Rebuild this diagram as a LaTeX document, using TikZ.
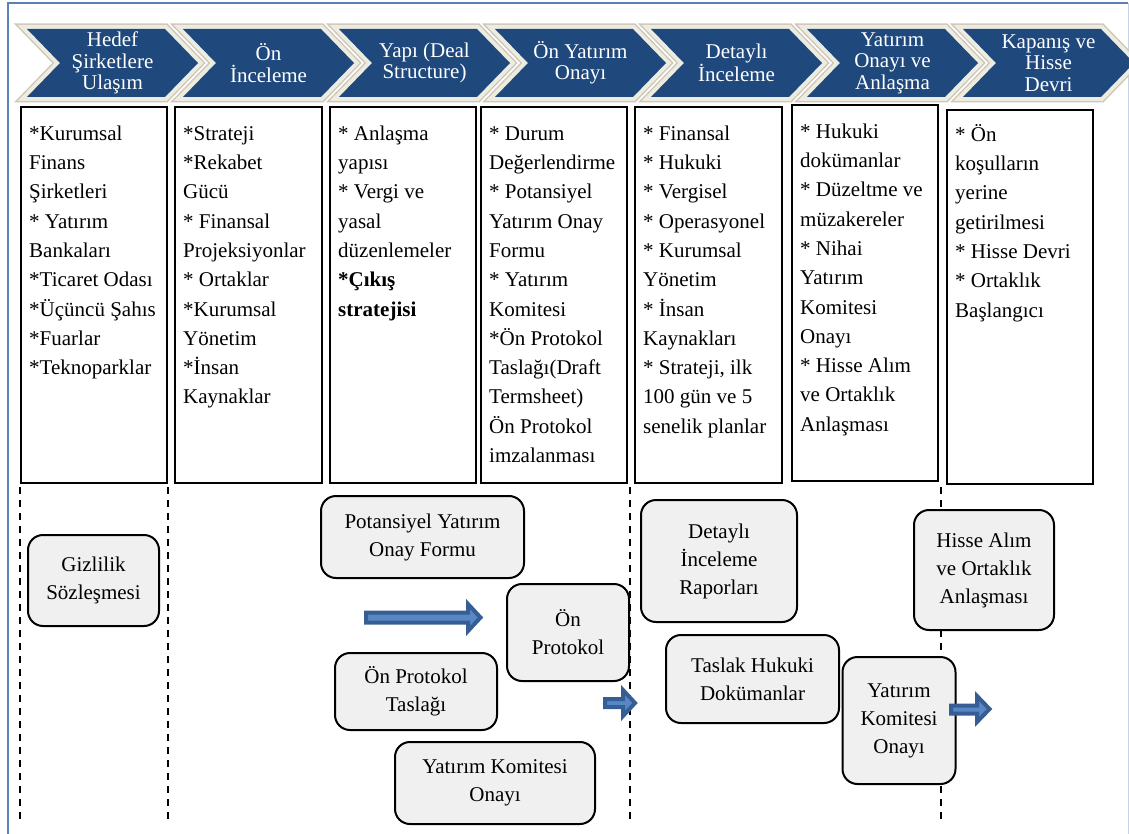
\documentclass[tikz,border=0pt]{standalone}
\usepackage{fontspec}
\setmainfont{Liberation Serif}
\usepackage{xcolor}
\usepackage{tikz}
\usetikzlibrary{positioning}

\definecolor{chevblue}{RGB}{31,73,125}
\definecolor{chevrim}{RGB}{238,236,225}
\definecolor{chevedge}{RGB}{205,200,184}
\definecolor{docgray}{RGB}{240,240,240}
\definecolor{arrowfill}{RGB}{88,136,196}
\definecolor{arrowedge}{RGB}{55,94,148}
\definecolor{framecol}{RGB}{92,128,184}

\begin{document}
\begin{tikzpicture}[x=1pt, y=-1pt]
            \useasboundingbox (0,0) rectangle (1129,834);

            % Define block styles
            \tikzstyle{chev} = [fill=chevblue, line join=miter, preaction={draw=chevedge, line width=11pt}, preaction={draw=chevrim, line width=8pt}]
            \tikzstyle{chevtext} = [text=white, align=center, inner sep=0pt, font=\fontsize{21}{21.5}\selectfont]
            \tikzstyle{listbox} = [draw, line width=2pt, anchor=north west, inner sep=0pt, minimum height=376pt]
            \tikzstyle{listtext} = [align=left, inner sep=0pt, font=\fontsize{21}{29.3}\selectfont]
            \tikzstyle{doc} = [draw, line width=2pt, fill=docgray, rounded corners=15pt, align=center, inner sep=0pt, font=\fontsize{21}{28}\selectfont]
            \tikzstyle{blockarrow} = [fill=arrowfill, draw=arrowedge, line width=4pt, line join=miter]
            \tikzstyle{phase} = [line width=2pt, dash pattern=on 7pt off 6pt]

            % Frame
            \draw[framecol, line width=1.5pt] (8,834) -- (8,3) -- (1128,3);
            \draw[framecol!35, line width=1pt] (1128,3) -- (1128,834);

            % Chevrons
            \path[chev] (27,29) -- ++(138,0) -- ++(33,34) -- ++(-33,34) -- ++(-138,0) -- ++(33,-34) -- cycle;
            \path[chev] (183,29) -- ++(138,0) -- ++(33,34) -- ++(-33,34) -- ++(-138,0) -- ++(33,-34) -- cycle;
            \path[chev] (339,29) -- ++(138,0) -- ++(33,34) -- ++(-33,34) -- ++(-138,0) -- ++(33,-34) -- cycle;
            \path[chev] (495,29) -- ++(138,0) -- ++(33,34) -- ++(-33,34) -- ++(-138,0) -- ++(33,-34) -- cycle;
            \path[chev] (651,29) -- ++(138,0) -- ++(33,34) -- ++(-33,34) -- ++(-138,0) -- ++(33,-34) -- cycle;
            \path[chev] (807,29) -- ++(138,0) -- ++(33,34) -- ++(-33,34) -- ++(-138,0) -- ++(33,-34) -- cycle;
            \path[chev] (963,29) -- ++(138,0) -- ++(33,34) -- ++(-33,34) -- ++(-138,0) -- ++(33,-34) -- cycle;

            \node[chevtext] (c1) at (112.5,63) {Hedef\\Şirketlere\\Ulaşım};
            \node[chevtext] (c2) at (268.5,63) {Ön\\İnceleme};
            \node[chevtext] (c3) at (424.5,63) {Yapı (Deal\\Structure)};
            \node[chevtext] (c4) at (580.5,63) {Ön Yatırım\\Onayı};
            \node[chevtext] (c5) at (736.5,63) {Detaylı\\İnceleme};
            \node[chevtext] (c6) at (892.5,63) {Yatırım\\Onayı ve\\Anlaşma};
            \node[chevtext] (c7) at (1048.5,63) {Kapanış ve\\Hisse\\Devri};

            % Lists
            \node[listbox, minimum width=146pt] (b1) at (20,106) {};
            \node[listbox, minimum width=147pt] (b2) at (174,106) {};
            \node[listbox, minimum width=146pt] (b3) at (329,106) {};
            \node[listbox, minimum width=146pt] (b4) at (480,106) {};
            \node[listbox, minimum width=147pt] (b5) at (634,106) {};
            \node[listbox, minimum width=146pt] (b6) at (791,104) {};
            \node[listbox, minimum width=146pt, minimum height=374pt] (b7) at (946,109) {};

            \node[listtext, below right=13.5pt and 9pt of b1.north west] (t1) {\strut*Kurumsal\\Finans\\Şirketleri\\{}* Yatırım\\Bankaları\\{}*Ticaret Odası\\{}*Üçüncü Şahıs\\{}*Fuarlar\\{}*Teknoparklar};
            \node[listtext, below right=13.5pt and 9pt of b2.north west] (t2) {\strut*Strateji\\{}*Rekabet\\Gücü\\{}* Finansal\\Projeksiyonlar\\{}* Ortaklar\\{}*Kurumsal\\Yönetim\\{}*İnsan\\Kaynaklar};
            \node[listtext, below right=13.5pt and 9pt of b3.north west] (t3) {\strut* Anlaşma\\yapısı\\{}* Vergi ve\\yasal\\düzenlemeler\\\textbf{*Çıkış}\\\textbf{stratejisi}};
            \node[listtext, below right=13.5pt and 9pt of b4.north west] (t4) {\strut* Durum\\Değerlendirme\\{}* Potansiyel\\Yatırım Onay\\Formu\\{}* Yatırım\\Komitesi\\{}*Ön Protokol\\Taslağı(Draft\\Termsheet)\\Ön Protokol\\imzalanması};
            \node[listtext, below right=13.5pt and 9pt of b5.north west] (t5) {\strut* Finansal\\{}* Hukuki\\{}* Vergisel\\{}* Operasyonel\\{}* Kurumsal\\Yönetim\\{}* İnsan\\Kaynakları\\{}* Strateji, ilk\\100 gün ve 5\\senelik planlar};
            \node[listtext, below right=13.5pt and 9pt of b6.north west] (t6) {\strut* Hukuki\\dokümanlar\\{}* Düzeltme ve\\müzakereler\\{}* Nihai\\Yatırım\\Komitesi\\Onayı\\{}* Hisse Alım\\ve Ortaklık\\Anlaşması};
            \node[listtext, below right=11.5pt and 9pt of b7.north west] (t7) {\strut* Ön\\koşulların\\yerine\\getirilmesi\\{}* Hisse Devri\\{}* Ortaklık\\Başlangıcı};

            % Phase separators
            \draw[phase] (20,487) -- (20,821);
            \draw[phase] (168,487) -- (168,821);
            \draw[phase] (630,487) -- (630,821);
            \draw[phase] (941,487) -- (941,821);

            % Documents
            \node[doc, minimum width=131pt, minimum height=91pt] (nda) at (93.5,580.5) {Gizlilik\\Sözleşmesi};
            \node[doc, minimum width=203pt, minimum height=82pt] (form) at (422.5,537) {Potansiyel Yatırım\\Onay Formu};
            \node[doc, minimum width=162pt, minimum height=77pt] (draft) at (416,691.5) {Ön Protokol\\Taslağı};
            \node[doc, minimum width=122pt, minimum height=97pt] (proto) at (568,632.5) {Ön\\Protokol};
            \node[doc, minimum width=200pt, minimum height=82pt] (comm1) at (495,783) {Yatırım Komitesi\\Onayı};
            \node[doc, minimum width=156pt, minimum height=122pt] (report) at (719,561) {Detaylı\\İnceleme\\Raporları};
            \node[doc, minimum width=173pt, minimum height=88pt] (legal) at (752.5,679) {Taslak Hukuki\\Dokümanlar};
            \node[doc, minimum width=113pt, minimum height=127pt] (comm2) at (899,720.5) {Yatırım\\Komitesi\\Onayı};
            \node[doc, minimum width=140pt, minimum height=120pt] (spa) at (984,570) {Hisse Alım\\ve Ortaklık\\Anlaşması};

            % Block arrows
            \draw[blockarrow] (366,612.5) -- (468,612.5) -- (468,604) -- (480.5,617.5) -- (468,631) -- (468,622.5) -- (366,622.5) -- cycle;
            \draw[blockarrow] (605,699) -- (623,699) -- (623,690) -- (635,703) -- (623,716) -- (623,707) -- (605,707) -- cycle;
            \draw[blockarrow] (951,705.5) -- (977,705.5) -- (977,696) -- (989.5,709) -- (977,722) -- (977,713.5) -- (951,713.5) -- cycle;
        \end{tikzpicture}
\end{document}
